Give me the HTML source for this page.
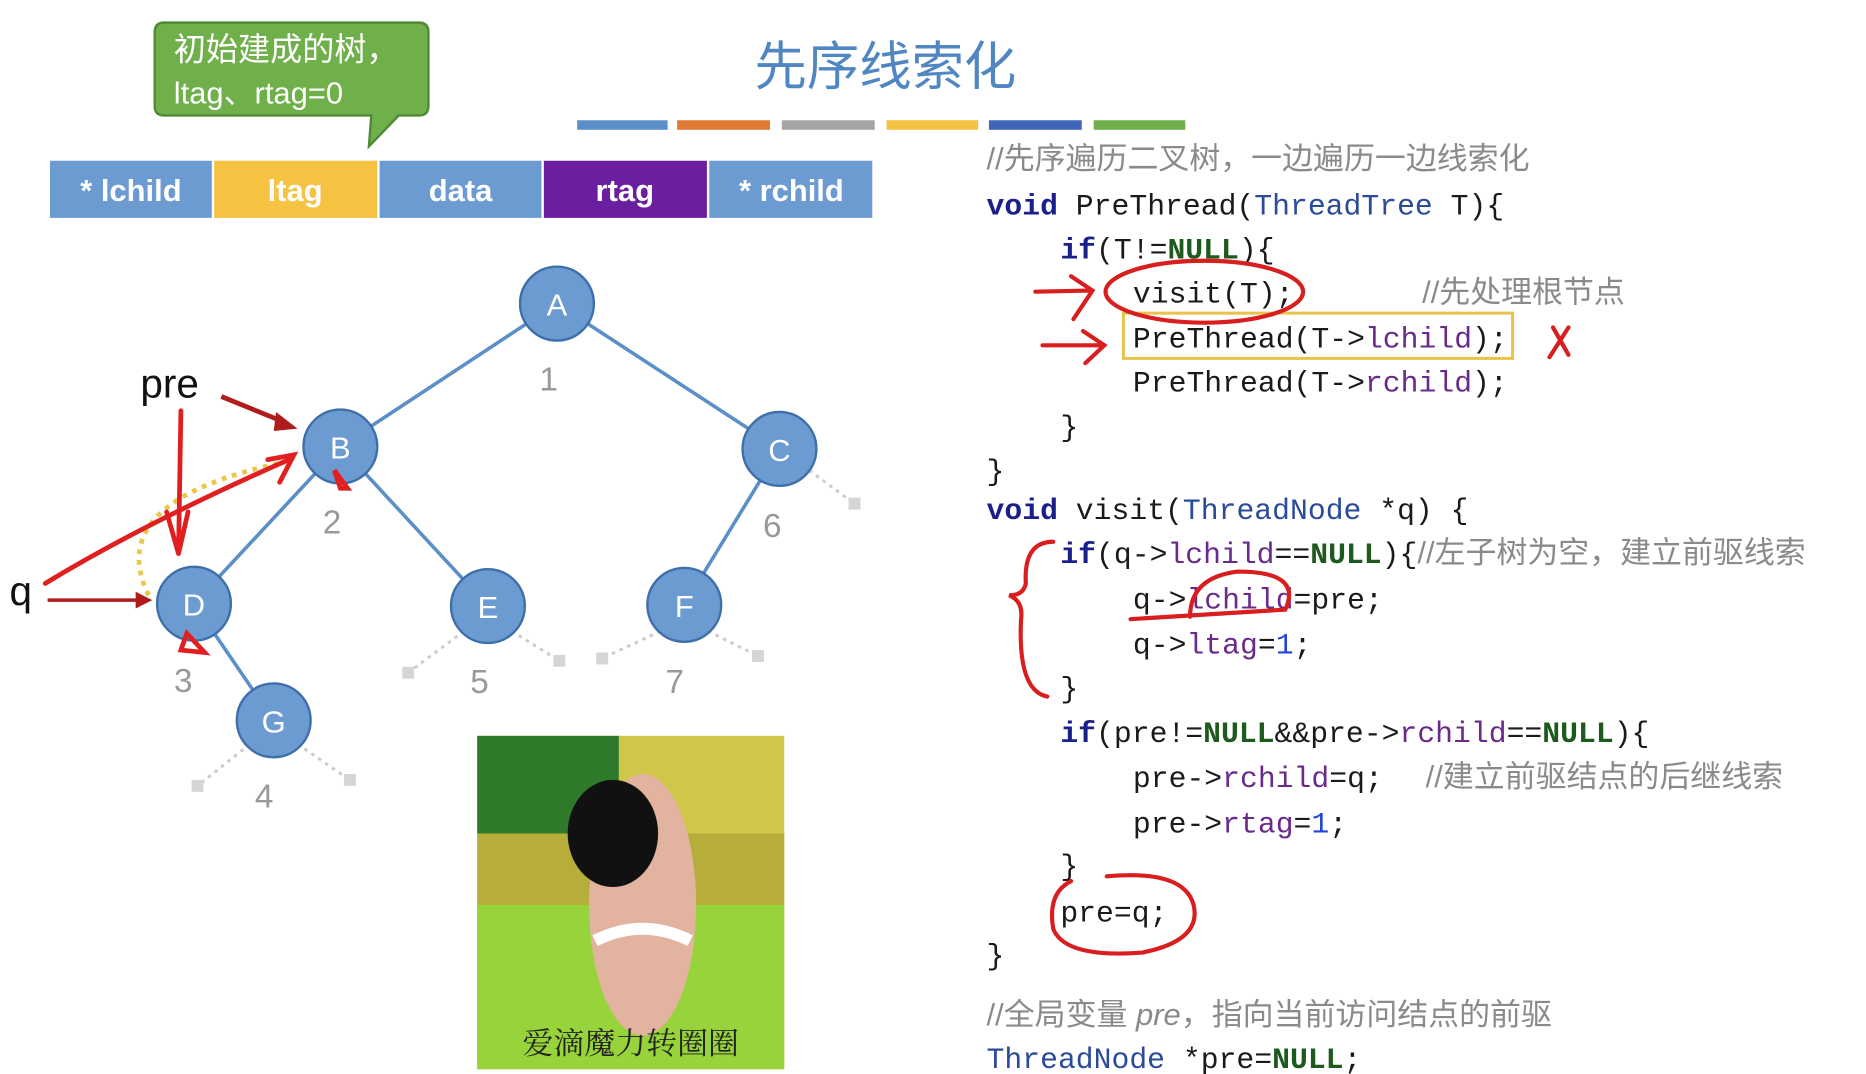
<!DOCTYPE html>
<html><head><meta charset="utf-8"><style>
html,body{margin:0;padding:0;background:#fff;}
svg{display:block}
.code{font-family:"Liberation Mono","Noto Sans CJK SC",monospace;font-size:25px;fill:#1a1a1a}
.kw{fill:#1b1f8a;font-weight:bold}
.ty{fill:#2a4a9a}
.nl{fill:#1e5a1e;font-weight:bold}
.cm{fill:#8a8a8a;font-family:"Liberation Sans","Noto Sans CJK SC",sans-serif;font-size:26px}
.pu{fill:#6a2a8a}
.nm{fill:#2244dd}
.nd{font-family:"Liberation Sans",sans-serif;font-size:26px;fill:#fff}
.num{font-family:"Liberation Sans",sans-serif;font-size:28px;fill:#999}
</style></head><body>
<svg width="1866" height="1074" viewBox="0 0 1568 902" preserveAspectRatio="none" xmlns="http://www.w3.org/2000/svg">
<rect width="1568" height="902" fill="#fff"/>
<path d="M138,19 H352 Q360,19 360,27 V89 Q360,97 352,97 H335 L310,123 L312,97 H138 Q130,97 130,89 V27 Q130,19 138,19 Z" fill="#6fb04a" stroke="#4e8a33" stroke-width="2"/>
<text x="146" y="51" font-family="Liberation Sans,Noto Sans CJK SC,sans-serif" font-size="27" fill="#fff">初始建成的树，</text>
<text x="146" y="87" font-family="Liberation Sans,Noto Sans CJK SC,sans-serif" font-size="26" fill="#fff">ltag、rtag=0</text>
<text x="744" y="71" text-anchor="middle" font-family="Liberation Sans,Noto Sans CJK SC,sans-serif" font-size="44" fill="#5086c2">先序线索化</text>
<rect x="485" y="101" width="76" height="8" fill="#5b8fc7"/>
<rect x="569" y="101" width="78" height="8" fill="#e07a35"/>
<rect x="657" y="101" width="78" height="8" fill="#a5a5a5"/>
<rect x="745" y="101" width="77" height="8" fill="#f5c242"/>
<rect x="831" y="101" width="78" height="8" fill="#3f66b8"/>
<rect x="919" y="101" width="77" height="8" fill="#6fb04a"/>
<g font-family="Liberation Sans,sans-serif" font-size="26" fill="#fff" text-anchor="middle" font-weight="bold">
<rect x="42" y="135" width="136" height="48" fill="#6c9bd2"/><text x="110" y="169">* lchild</text>
<rect x="180" y="135" width="137" height="48" fill="#f5c242"/><text x="248" y="169">ltag</text>
<rect x="319" y="135" width="136" height="48" fill="#6c9bd2"/><text x="387" y="169">data</text>
<rect x="457" y="135" width="137" height="48" fill="#6a1fa0"/><text x="525" y="169">rtag</text>
<rect x="596" y="135" width="137" height="48" fill="#6c9bd2"/><text x="665" y="169">* rchild</text>
</g>
<g stroke="#5b8fc7" stroke-width="3">
<line x1="468" y1="255" x2="286" y2="375"/><line x1="468" y1="255" x2="655" y2="377"/>
<line x1="286" y1="375" x2="163" y2="507"/><line x1="286" y1="375" x2="410" y2="509"/>
<line x1="655" y1="377" x2="575" y2="508"/><line x1="163" y1="507" x2="230" y2="605"/>
</g>
<g stroke="#ccc" stroke-width="2.5" stroke-dasharray="3,4">
<line x1="680" y1="395" x2="718" y2="423"/><line x1="390" y1="530" x2="343" y2="565"/><line x1="430" y1="530" x2="470" y2="555"/>
<line x1="555" y1="530" x2="506" y2="553"/><line x1="595" y1="530" x2="637" y2="551"/>
<line x1="210" y1="625" x2="166" y2="660"/><line x1="250" y1="625" x2="294" y2="655"/>
</g>
<g fill="#d5d5d5">
<rect x="713" y="418" width="10" height="10"/><rect x="338" y="560" width="10" height="10"/><rect x="465" y="550" width="10" height="10"/>
<rect x="501" y="548" width="10" height="10"/><rect x="632" y="546" width="10" height="10"/>
<rect x="161" y="655" width="10" height="10"/><rect x="289" y="650" width="10" height="10"/>
</g>
<g fill="#6c9bd2" stroke="#3f6fa8" stroke-width="2">
<circle cx="468" cy="255" r="31"/><circle cx="286" cy="375" r="31"/><circle cx="655" cy="377" r="31"/>
<circle cx="163" cy="507" r="31"/><circle cx="410" cy="509" r="31"/><circle cx="575" cy="508" r="31"/><circle cx="230" cy="605" r="31"/>
</g>
<g class="nd" text-anchor="middle">
<text x="468" y="265">A</text><text x="286" y="385">B</text><text x="655" y="387">C</text><text x="163" y="517">D</text>
<text x="410" y="519">E</text><text x="575" y="518">F</text><text x="230" y="615">G</text>
</g>
<g class="num" text-anchor="middle">
<text x="461" y="328">1</text><text x="279" y="448">2</text><text x="649" y="451">6</text><text x="154" y="581">3</text>
<text x="403" y="582">5</text><text x="567" y="582">7</text><text x="222" y="678">4</text>
</g>
<text x="118" y="334" font-family="Liberation Sans,sans-serif" font-size="34" fill="#111">pre</text>
<text x="8" y="508" font-family="Liberation Sans,sans-serif" font-size="34" fill="#111">q</text>
<line x1="186" y1="333" x2="240" y2="355" stroke="#b01c1c" stroke-width="4"/>
<polygon points="250,360 232,346 230,362" fill="#b01c1c"/>
<line x1="40" y1="504" x2="118" y2="504" stroke="#b01c1c" stroke-width="3"/>
<polygon points="128,504 114,497 114,511" fill="#b01c1c"/>
<path d="M125,500 Q85,420 240,388" fill="none" stroke="#e8c84a" stroke-width="4" stroke-dasharray="4,5"/>
<g fill="none" stroke="#e02020" stroke-width="4" stroke-linecap="round">
<path d="M38,490 Q120,440 245,385"/><path d="M225,386 L247,382 L235,405"/>
<path d="M152,345 L150,465 L140,430 M150,465 L158,430"/>
<path d="M281,395 L286,410 L292,410 Z"/>
<path d="M157,532 L152,546 L172,548 Z"/>
</g>
<rect x="401" y="618" width="258" height="280" fill="#cfc64a"/>
<rect x="401" y="618" width="119" height="82" fill="#2f7a2a"/>
<rect x="401" y="700" width="258" height="60" fill="#b7ad3a"/>
<rect x="401" y="760" width="258" height="138" fill="#97d33a"/>
<ellipse cx="540" cy="760" rx="45" ry="110" fill="#e2b39f"/>
<ellipse cx="515" cy="700" rx="38" ry="45" fill="#111"/>
<path d="M500,790 Q540,770 580,790" stroke="#fff" stroke-width="10" fill="none"/>
<text x="530" y="885" text-anchor="middle" font-family="Noto Serif CJK SC,serif" font-size="26" fill="#222">爱滴魔力转圈圈</text>
<g class="code">
<text class="cm" x="829" y="142">//先序遍历二叉树，一边遍历一边线索化</text>
<text x="829" y="180"><tspan class="kw">void</tspan> PreThread(<tspan class="ty">ThreadTree</tspan> T){</text>
<text x="891" y="217"><tspan class="kw">if</tspan>(T!=<tspan class="nl">NULL</tspan>){</text>
<text x="952" y="254">visit(T);</text>
<text class="cm" x="1195" y="254">//先处理根节点</text>
<text x="952" y="292">PreThread(T-&gt;<tspan class="pu">lchild</tspan>);</text>
<text x="952" y="329">PreThread(T-&gt;<tspan class="pu">rchild</tspan>);</text>
<text x="891" y="366">}</text>
<text x="829" y="403">}</text>
<text x="829" y="436"><tspan class="kw">void</tspan> visit(<tspan class="ty">ThreadNode</tspan> *q) {</text>
<text x="891" y="473"><tspan class="kw">if</tspan>(q-&gt;<tspan class="pu">lchild</tspan>==<tspan class="nl">NULL</tspan>){<tspan class="cm">//左子树为空，建立前驱线索</tspan></text>
<text x="952" y="511">q-&gt;<tspan class="pu">lchild</tspan>=pre;</text>
<text x="952" y="549">q-&gt;<tspan class="pu">ltag</tspan>=<tspan class="nm">1</tspan>;</text>
<text x="891" y="586">}</text>
<text x="891" y="623"><tspan class="kw">if</tspan>(pre!=<tspan class="nl">NULL</tspan>&amp;&amp;pre-&gt;<tspan class="pu">rchild</tspan>==<tspan class="nl">NULL</tspan>){</text>
<text x="952" y="661">pre-&gt;<tspan class="pu">rchild</tspan>=q;</text>
<text class="cm" x="1198" y="661">//建立前驱结点的后继线索</text>
<text x="952" y="699">pre-&gt;<tspan class="pu">rtag</tspan>=<tspan class="nm">1</tspan>;</text>
<text x="891" y="735">}</text>
<text x="891" y="774">pre=q;</text>
<text x="829" y="810">}</text>
<text class="cm" x="829" y="861">//全局变量 <tspan font-style="italic">pre</tspan>，指向当前访问结点的前驱</text>
<text x="829" y="897"><tspan class="ty">ThreadNode</tspan> *pre=<tspan class="nl">NULL</tspan>;</text>
</g>
<rect x="944" y="263" width="327" height="38" fill="none" stroke="#e8c24a" stroke-width="2.5"/>
<g fill="none" stroke="#d81e1e" stroke-width="3.5" stroke-linecap="round">
<ellipse cx="1012" cy="245" rx="83" ry="26"/>
<path d="M870,245 L915,244 M900,232 L918,244 L902,268"/>
<path d="M876,290 L925,290 M910,278 L928,290 L912,305"/>
<path d="M1305,275 L1318,298 M1318,275 L1302,300"/>
<path d="M950,520 Q1030,515 1080,512 Q1095,480 1040,480 Q1000,485 1000,518"/>
<path d="M885,455 Q860,455 862,490 Q860,500 848,500 Q860,505 858,520 Q855,580 880,585"/>
<path d="M900,740 Q880,750 885,780 Q895,805 960,800 Q1010,790 1003,760 Q995,730 930,736"/>
</g>
</svg>
</body></html>
